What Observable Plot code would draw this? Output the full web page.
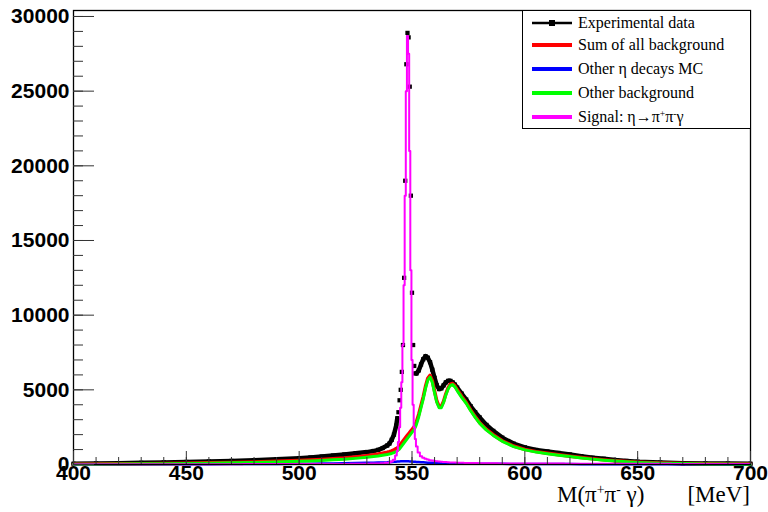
<!DOCTYPE html>
<html><head><meta charset="utf-8">
<script src="https://cdn.jsdelivr.net/npm/d3@7"></script>
<script src="https://cdn.jsdelivr.net/npm/@observablehq/plot@0.6"></script>
<style>
body{margin:0;background:#fff;}
#wrap{position:relative;width:768px;height:512px;overflow:hidden;}
.legend{position:absolute;left:522px;top:10px;width:227px;height:117px;border:1px solid #000;background:#fff;font-family:"Liberation Serif","Times New Roman",serif;font-size:16px;color:#000;}
.row{position:absolute;left:0;height:20px;width:227px;}
.row svg{position:absolute;left:8px;top:0;}
.row span{position:absolute;left:55px;top:0px;line-height:19px;white-space:nowrap;}
sup{font-size:60%;vertical-align:0.55em;line-height:0;}
.xlab{position:absolute;font-family:"Liberation Serif","Times New Roman",serif;font-size:23px;line-height:23px;white-space:nowrap;color:#000;}
</style>
</head><body>
<div id="wrap"></div>
<script>
// Bin centres (MeV) — finer binning through the eta peak
const mass = [400,410,420,430,440,450,460,470,480,490,500,505,510,515,520,525,530,533,535,537,539,540,541,542,543,543.5,544,544.5,545,545.5,546,546.5,547,547.5,548,548.5,549,549.5,550,550.5,551,551.5,552,553,554,555,556,557,558,559,560,561,562,563,564,565,566,567,568,569,570,572,574,576,578,580,583,586,590,595,600,605,610,615,620,625,630,635,640,645,650,660,670,680,690,700];

const dataCounts = [50,70,90,110,140,170,200,240,290,350,420,470,530,600,670,750,830,900,980,1100,1270,1400,1650,2000,2600,3100,3500,4300,5000,6200,8000,12500,19000,26800,28900,28600,25300,18000,11500,8000,6600,6100,6100,6300,6700,7050,7250,7150,6850,6350,5800,5300,5050,5100,5300,5500,5600,5600,5500,5350,5150,4750,4350,3900,3500,3150,2650,2250,1800,1400,1150,980,870,770,670,560,460,380,300,240,190,130,90,70,60,50];

const sumBkg = [25,33,45,57,70,88,112,137,173,210,260,295,332,380,430,505,590,650,700,760,820,860,910,980,1060,1115,1180,1255,1360,1465,1570,1670,1770,1870,1965,2060,2155,2250,2345,2440,2535,2680,2875,3365,3955,4545,5235,5775,5968,5612,4906,4250,3895,3890,4236,4732,5128,5375,5422,5270,5018,4564,4160,3657,3204,2801,2348,1995,1592,1238,1015,862,750,648,556,464,382,310,248,196,155,103,71,49,38,27];

const otherEta = [5,8,10,12,15,18,22,27,33,40,50,55,62,70,80,95,110,120,130,140,150,160,170,180,190,195,200,205,210,215,220,220,220,220,215,210,205,200,195,190,185,180,175,165,155,145,135,125,118,112,106,100,95,90,86,82,78,75,72,70,68,64,60,57,54,51,48,45,42,38,35,32,30,28,26,24,22,20,18,16,15,13,11,9,8,7];

const otherBkg = [20,25,35,45,55,70,90,110,140,170,210,240,270,310,350,410,480,530,570,620,670,700,740,800,870,920,980,1050,1150,1250,1350,1450,1550,1650,1750,1850,1950,2050,2150,2250,2350,2500,2700,3200,3800,4400,5100,5650,5850,5500,4800,4150,3800,3800,4150,4650,5050,5300,5350,5200,4950,4500,4100,3600,3150,2750,2300,1950,1550,1200,980,830,720,620,530,440,360,290,230,180,140,90,60,40,30,20];

const signal = [20,20,20,20,22,22,24,25,26,28,30,32,34,36,40,45,50,60,70,85,110,140,200,320,600,900,1500,2500,3800,5500,8000,12000,18000,25000,28700,27500,21000,13000,7000,4000,2500,1700,1200,800,560,450,380,330,290,260,230,210,195,180,170,160,150,140,135,130,125,115,108,100,95,90,85,80,75,70,68,65,62,60,58,55,52,50,48,46,45,42,40,38,36,35];

const xMajor = [400,450,500,550,600,650,700];
const xMinor = d3.range(400, 701, 10);
const yMajor = [0,5000,10000,15000,20000,25000,30000];
const yMinor = d3.range(0, 30001, 1000);

const legendItems = [
  {label: "Experimental data", color: "#000000", marker: true},
  {label: "Sum of all background", color: "#ff0000"},
  {label: "Other η decays MC", color: "#0000ff"},
  {label: "Other background", color: "#00ff00"},
  {label: "Signal: η→π<sup>+</sup>π<sup>-</sup>γ", color: "#ff00ff"}
];

const toRows = arr => mass.map((m, i) => ({m, v: arr[i]}));
const dataRows = toRows(dataCounts);

const tickFont = {fontSize: 21, fontWeight: "bold", fontFamily: "Liberation Sans, Arial, sans-serif"};

const chart = Plot.plot({
  width: 768, height: 512,
  marginLeft: 73, marginRight: 18, marginTop: 10, marginBottom: 48,
  x: {domain: [400, 700]},
  y: {domain: [0, 30400]},
  style: {background: "#fff", color: "#000", overflow: "visible"},
  marks: [
    Plot.line(dataRows.filter(d => d.m <= 543.5), {x: "m", y: "v", stroke: "#000", strokeWidth: 4.5}),
    Plot.line(dataRows.filter(d => d.m >= 552), {x: "m", y: "v", stroke: "#000", strokeWidth: 4.5}),
    Plot.dot(dataRows, {x: "m", y: "v", symbol: "square", r: 2.4, fill: "#000", stroke: null}),
    Plot.line(toRows(sumBkg), {x: "m", y: "v", stroke: "#ff0000", strokeWidth: 3.5}),
    Plot.line(toRows(otherEta), {x: "m", y: "v", stroke: "#0000ff", strokeWidth: 2.5}),
    Plot.line(toRows(otherBkg), {x: "m", y: "v", stroke: "#00ff00", strokeWidth: 3}),
    Plot.line(toRows(signal), {x: "m", y: "v", stroke: "#ff00ff", strokeWidth: 2, curve: "step"}),
    Plot.frame({stroke: "#000", strokeWidth: 1.3}),
    Plot.axisY({ticks: yMinor, tickSize: -10, tickFormat: () => "", stroke: "#333", label: null}),
    Plot.axisY({ticks: yMajor, tickSize: -21, tickFormat: () => "", stroke: "#333", label: null}),
    Plot.axisY({ticks: yMajor, tickSize: 0, tickPadding: 4, tickFormat: d => String(d), label: null, ...tickFont}),
    Plot.axisX({ticks: xMinor, tickSize: -7, tickFormat: () => "", stroke: "#333", label: null}),
    Plot.axisX({ticks: xMajor, tickSize: -13, tickFormat: () => "", stroke: "#333", label: null}),
    Plot.axisX({ticks: xMajor, tickSize: 0, tickPadding: 1, tickFormat: d => String(d), label: null, ...tickFont})
  ]
});

const wrap = document.getElementById("wrap");
wrap.appendChild(chart);

// Legend
const leg = document.createElement("div");
leg.className = "legend";
const rowTops = [2, 24, 48, 72, 96];
legendItems.forEach((it, i) => {
  const r = document.createElement("div");
  r.className = "row";
  r.style.top = rowTops[i] + "px";
  const sw = it.marker ? 2.5 : 4;
  r.innerHTML = `<svg width="42" height="20"><line x1="1" x2="41" y1="10" y2="10" stroke="${it.color}" stroke-width="${sw}"/>` +
    (it.marker ? `<rect x="18" y="7" width="6" height="6" fill="#000"/>` : "") +
    `</svg><span>${it.label}</span>`;
  leg.appendChild(r);
});
wrap.appendChild(leg);

// Axis title
const xl1 = document.createElement("div");
xl1.className = "xlab";
xl1.style.left = "557px"; xl1.style.top = "483px";
xl1.innerHTML = "M(π<sup>+</sup>π<sup>-</sup>&nbsp;γ)";
wrap.appendChild(xl1);
const xl2 = document.createElement("div");
xl2.className = "xlab";
xl2.style.right = "18px"; xl2.style.top = "483px";
xl2.innerHTML = "[MeV]";
wrap.appendChild(xl2);
</script>
</body></html>
